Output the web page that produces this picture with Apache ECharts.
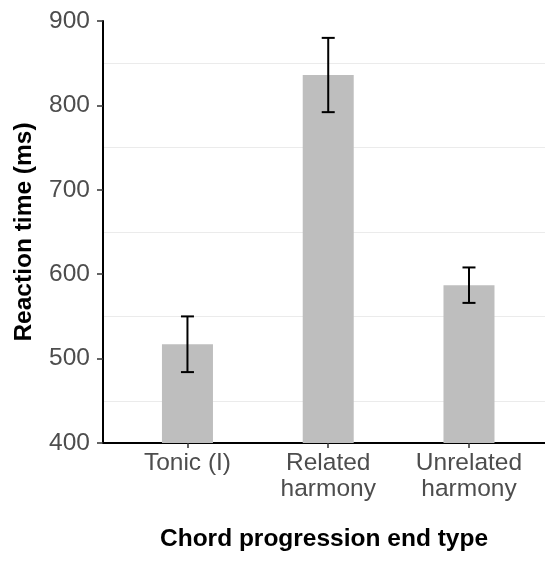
<!DOCTYPE html>
<html>
<head>
<meta charset="utf-8">
<script src="https://cdn.jsdelivr.net/npm/echarts@6/dist/echarts.min.js"></script>
<style>
  html, body { margin: 0; padding: 0; background: #fff; }
  #chart { width: 545px; height: 562px; }
</style>
</head>
<body>
<div id="chart"></div>
<script>
// Mean reaction time per chord progression end type, with error bars
const categories = ['Tonic (I)', 'Related\nharmony', 'Unrelated\nharmony'];
const meanRT = [517, 836, 587];
const lowerRT = [484, 792, 566];
const upperRT = [550, 880, 608];
const yTicks = [400, 500, 600, 700, 800, 900];

const positions = categories.map((_, i) => i + 1);
const barData = positions.map((x, i) => [x, meanRT[i]]);
const errData = positions.map((x, i) => [x, lowerRT[i], upperRT[i]]);

const chart = echarts.init(document.getElementById('chart'), null, { renderer: 'canvas' });

const font = 'Liberation Sans, Arial, Helvetica, sans-serif';
const fs = 24.5;

chart.setOption({
  backgroundColor: '#ffffff',
  animation: false,
  // panel runs off the right edge; discrete x positions padded by 0.6 on the left
  grid: { left: 103, top: 21, right: 0, height: 422, containLabel: false },
  xAxis: {
    type: 'value',
    min: 0.4,
    max: 3.54,
    name: 'Chord progression end type',
    nameLocation: 'middle',
    nameGap: 84,
    nameTextStyle: { fontFamily: font, fontSize: fs, fontWeight: 'bold', color: '#000' },
    axisLine: { show: true, onZero: false, lineStyle: { color: '#000', width: 2 } },
    axisTick: { show: true, length: 5, customValues: positions, lineStyle: { color: '#333', width: 1.5 } },
    axisLabel: {
      show: true,
      customValues: positions,
      formatter: v => categories[Math.round(v) - 1] || '',
      fontFamily: font, fontSize: fs, color: '#4d4d4d', lineHeight: 26, margin: 7
    },
    splitLine: { show: false }
  },
  yAxis: {
    type: 'value',
    min: yTicks[0],
    max: yTicks[yTicks.length - 1],
    interval: 100,
    name: 'Reaction time (ms)',
    nameLocation: 'middle',
    nameGap: 66,
    nameTextStyle: { fontFamily: font, fontSize: fs, fontWeight: 'bold', color: '#000' },
    axisLine: { show: true, lineStyle: { color: '#000', width: 2 } },
    axisTick: { show: true, length: 6, lineStyle: { color: '#333', width: 1.5 } },
    axisLabel: { fontFamily: font, fontSize: fs, color: '#4d4d4d', margin: 13 },
    splitLine: { show: false },
    minorTick: { show: false, splitNumber: 2 },
    minorSplitLine: { show: true, lineStyle: { color: '#ebebeb', width: 1 } }
  },
  series: [
    {
      type: 'bar',
      data: barData,
      barWidth: 51,
      itemStyle: { color: '#bebebe' },
      clip: true,
      z: 2
    },
    {
      type: 'custom',
      data: errData,
      z: 3,
      renderItem: function (params, api) {
        const x = api.value(0);
        const lo = api.coord([x, api.value(1)]);
        const hi = api.coord([x, api.value(2)]);
        const half = 6.5;
        const style = { stroke: '#000', lineWidth: 2, fill: null };
        return {
          type: 'group',
          children: [
            { type: 'line', shape: { x1: lo[0], y1: lo[1], x2: hi[0], y2: hi[1] }, style },
            { type: 'line', shape: { x1: hi[0] - half, y1: hi[1], x2: hi[0] + half, y2: hi[1] }, style },
            { type: 'line', shape: { x1: lo[0] - half, y1: lo[1], x2: lo[0] + half, y2: lo[1] }, style }
          ]
        };
      }
    }
  ]
});
</script>
</body>
</html>
